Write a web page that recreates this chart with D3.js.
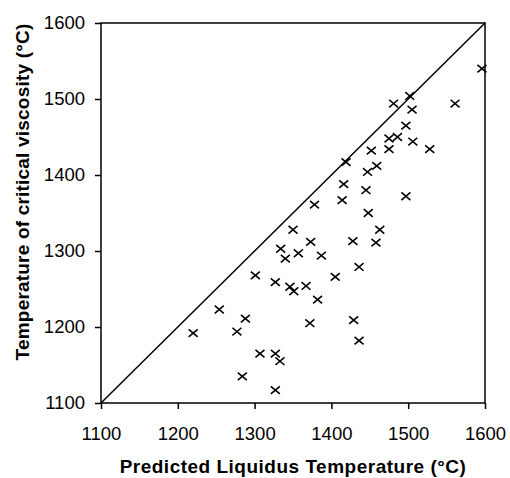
<!DOCTYPE html>
<html>
<head>
<meta charset="utf-8">
<script src="https://cdn.jsdelivr.net/npm/d3@7"></script>
<style>
  body { margin: 0; background: #fff; }
  text { font-family: "Liberation Sans", Arial, sans-serif; fill: #000; }
</style>
</head>
<body>
<svg id="chart" width="510" height="478"></svg>
<script>
// predicted liquidus temperature (x) vs temperature of critical viscosity (y)
var predicted = [1596, 1502, 1481, 1561, 1505, 1497, 1475, 1486, 1506, 1452,
  1475, 1528, 1419, 1459, 1447, 1416, 1445, 1497, 1414, 1378,
  1448, 1350, 1463, 1334, 1357, 1373, 1387, 1428, 1458, 1340,
  1436, 1301, 1405, 1327, 1346, 1351, 1367, 1382, 1254, 1288,
  1220, 1277, 1372, 1429, 1436, 1307, 1327, 1333, 1284, 1327]
var critical = [1540, 1504, 1494, 1494, 1486, 1465, 1448, 1450, 1444, 1432,
  1434, 1434, 1417, 1412, 1404, 1388, 1380, 1372, 1367, 1361,
  1350, 1328, 1328, 1303, 1297, 1312, 1294, 1313, 1311, 1290,
  1279, 1268, 1266, 1259, 1253, 1247, 1254, 1236, 1223, 1211,
  1192, 1194, 1205, 1209, 1182, 1165, 1165, 1155, 1135, 1117]
var ticks = [1100, 1200, 1300, 1400, 1500, 1600]

var svg = d3.select('svg#chart')
  , pLeft = 101, pRight = 485, pTop = 23, pBottom = 403

var x = d3.scaleLinear().domain([1100, 1600]).range([pLeft, pRight])
  , y = d3.scaleLinear().domain([1100, 1600]).range([pBottom, pTop])

var points = predicted.map(function(p, i) { return { x: p, y: critical[i] } })

// frame
svg.append('rect')
  .attr('x', pLeft).attr('y', pTop)
  .attr('width', pRight - pLeft).attr('height', pBottom - pTop)
  .attr('fill', 'none').attr('stroke', '#000').attr('stroke-width', 1.5)

var xAxis = svg.append('g').attr('transform', 'translate(0,' + pBottom + ')')
  .call(d3.axisBottom(x).tickValues(ticks).tickSize(6).tickPadding(18).tickFormat(d3.format('d')))
var yAxis = svg.append('g').attr('transform', 'translate(' + pLeft + ',0)')
  .call(d3.axisLeft(y).tickValues(ticks).tickSize(6).tickPadding(10).tickFormat(d3.format('d')))

;[xAxis, yAxis].forEach(function(a) {
  a.select('.domain').remove()
  a.selectAll('line').attr('stroke', '#000').attr('stroke-width', 1.5)
  a.selectAll('text').style('font-size', '18.5px').style('font-family', '"Liberation Sans", Arial, sans-serif')
})

// 1:1 line
svg.append('line')
  .attr('x1', x(1100)).attr('y1', y(1100))
  .attr('x2', x(1600)).attr('y2', y(1600))
  .attr('stroke', '#000').attr('stroke-width', 1.5)

// x markers
svg.selectAll('path.pt').data(points)
  .enter().append('path').classed('pt', true)
  .attr('d', function(d) {
    var cx = x(d.x), cy = y(d.y), w = 4.5, h = 3.8
    return 'M' + (cx - w) + ',' + (cy - h) + 'L' + (cx + w) + ',' + (cy + h) +
      'M' + (cx - w) + ',' + (cy + h) + 'L' + (cx + w) + ',' + (cy - h)
  })
  .attr('stroke', '#000').attr('stroke-width', 1.6).attr('fill', 'none')

svg.append('text')
  .attr('x', (pLeft + pRight) / 2).attr('y', 473)
  .attr('text-anchor', 'middle')
  .style('font-size', '19px').style('font-weight', 'bold').style('letter-spacing', '0.5px')
  .text('Predicted Liquidus Temperature (°C)')

svg.append('text')
  .attr('transform', 'translate(29,192) rotate(-90)')
  .attr('text-anchor', 'middle')
  .style('font-size', '19px').style('font-weight', 'bold').style('letter-spacing', '0.2px')
  .text('Temperature of critical viscosity (°C)')
</script>
</body>
</html>
